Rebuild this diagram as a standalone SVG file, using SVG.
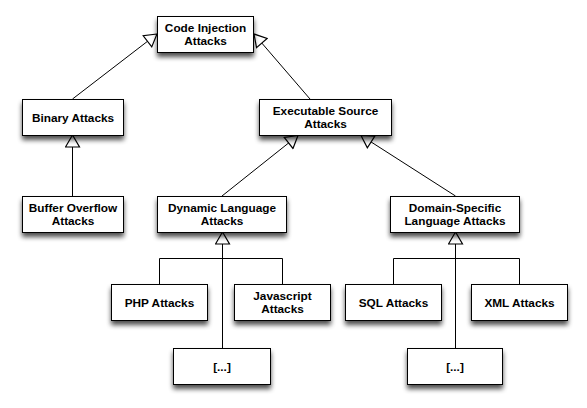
<svg xmlns="http://www.w3.org/2000/svg" width="587" height="408" viewBox="0 0 587 408">
<style>
.box{fill:#fff;stroke:#000;stroke-width:1}
.t{font-family:"Liberation Sans",Arial,sans-serif;font-weight:bold;font-size:11.8px;fill:#000;text-anchor:middle}
.c{fill:none;stroke:#000;stroke-width:1}
.a{marker-end:url(#gen)}
</style>
<defs>
<filter id="sh" x="-20%" y="-30%" width="140%" height="180%">
<feGaussianBlur in="SourceAlpha" stdDeviation="2.5"/>
<feOffset dx="0" dy="4" result="b"/>
<feComponentTransfer><feFuncA type="linear" slope="0.7"/></feComponentTransfer>
<feMerge><feMergeNode/><feMergeNode in="SourceGraphic"/></feMerge>
</filter>
<marker id="gen" markerUnits="userSpaceOnUse" markerWidth="16" markerHeight="16" viewBox="-14 -8 16 16" refX="0" refY="0" orient="auto">
<path d="M0,0 L-12,-7 L-12,7 Z" fill="#fff" stroke="#000" stroke-width="1.2"/>
</marker>
</defs>
<rect width="587" height="408" fill="#fff"/>
<g id="connectors">
<path class="c a" d="M72.5,99 L157,34"/>
<path class="c a" d="M310,99 L254,34"/>
<path class="c a" d="M72.5,196 L72.5,135"/>
<path class="c a" d="M222,196 L298,135.5"/>
<path class="c a" d="M455.5,196 L361,135.5"/>
<path class="c" d="M159.5,284 V258.5 H282.5 V284"/>
<path class="c a" d="M222.5,348 V232"/>
<path class="c" d="M393.5,284 V258.5 H519.5 V284"/>
<path class="c a" d="M455.5,348 V232"/>
</g>
<g id="code-injection"><rect class="box" filter="url(#sh)" x="157.5" y="16.5" width="96" height="36"/><text class="t" x="205.5" y="31.5">Code Injection</text><text class="t" x="205.5" y="45">Attacks</text></g>
<g id="binary"><rect class="box" filter="url(#sh)" x="22.5" y="99.5" width="101" height="36"/><text class="t" x="73" y="121.5">Binary Attacks</text></g>
<g id="buffer-overflow"><rect class="box" filter="url(#sh)" x="22.5" y="196.5" width="101" height="36"/><text class="t" x="73" y="211.5">Buffer Overflow</text><text class="t" x="73" y="225">Attacks</text></g>
<g id="executable-source"><rect class="box" filter="url(#sh)" x="259.5" y="99.5" width="132" height="36"/><text class="t" x="325.5" y="114.5">Executable Source</text><text class="t" x="325.5" y="128">Attacks</text></g>
<g id="dynamic-language"><rect class="box" filter="url(#sh)" x="157.5" y="196.5" width="129" height="36"/><text class="t" x="222" y="211.5">Dynamic Language</text><text class="t" x="222" y="225">Attacks</text></g>
<g id="domain-specific"><rect class="box" filter="url(#sh)" x="390.5" y="196.5" width="129" height="36"/><text class="t" x="455" y="211.5">Domain-Specific</text><text class="t" x="455" y="225">Language Attacks</text></g>
<g id="php"><rect class="box" filter="url(#sh)" x="111.5" y="284.5" width="96" height="36"/><text class="t" x="159.5" y="306.5">PHP Attacks</text></g>
<g id="javascript"><rect class="box" filter="url(#sh)" x="234.5" y="284.5" width="96" height="36"/><text class="t" x="282.5" y="299.5">Javascript</text><text class="t" x="282.5" y="313">Attacks</text></g>
<g id="more-dynamic"><rect class="box" filter="url(#sh)" x="173.5" y="348.5" width="97" height="36"/><text class="t" x="222" y="370.5">[...]</text></g>
<g id="sql"><rect class="box" filter="url(#sh)" x="345.5" y="284.5" width="96" height="36"/><text class="t" x="393.5" y="306.5">SQL Attacks</text></g>
<g id="xml"><rect class="box" filter="url(#sh)" x="471.5" y="284.5" width="96" height="36"/><text class="t" x="519.5" y="306.5">XML Attacks</text></g>
<g id="more-domain"><rect class="box" filter="url(#sh)" x="407.5" y="348.5" width="95" height="36"/><text class="t" x="455" y="370.5">[...]</text></g>
</svg>
